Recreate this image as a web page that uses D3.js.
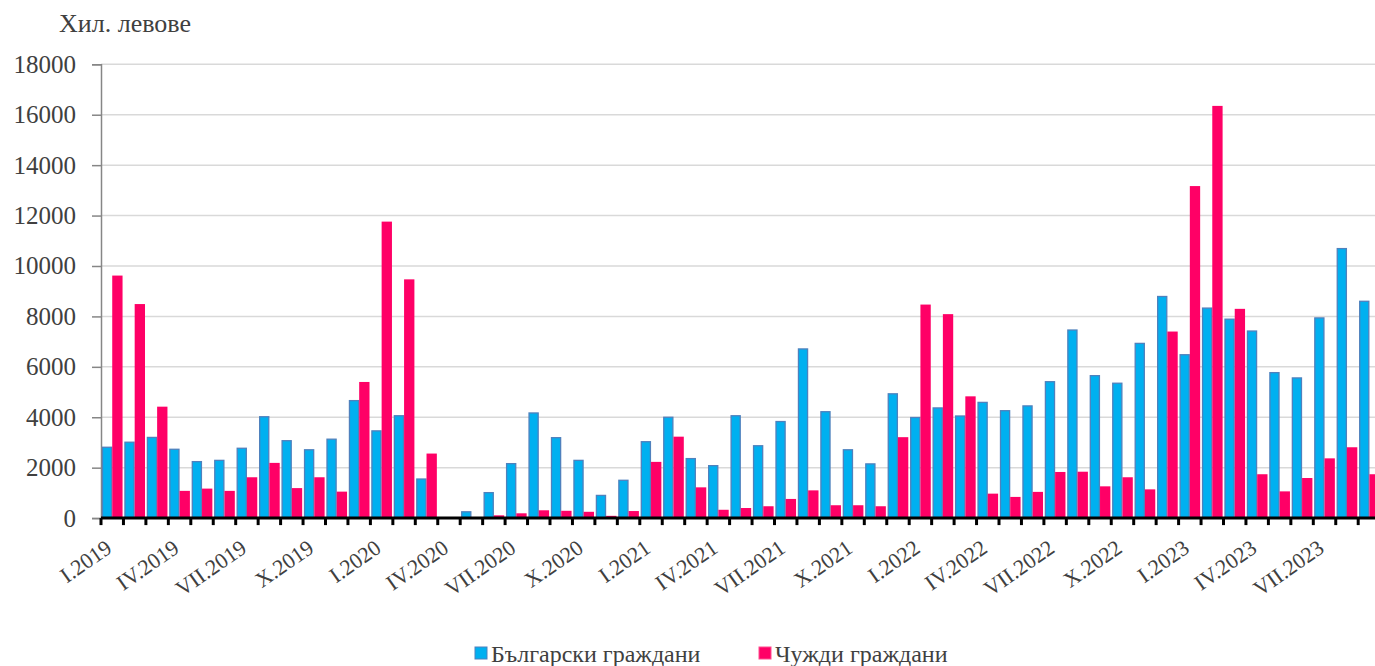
<!DOCTYPE html>
<html><head><meta charset="utf-8">
<script src="https://cdn.jsdelivr.net/npm/d3@7"></script>
<style>
html,body{margin:0;padding:0;background:#fff;}
svg{display:block;}
text{font-family:"Liberation Serif","Times New Roman",serif;fill:#404040;}
</style></head>
<body>
<svg id="chart" width="1375" height="666"></svg>
<script>
const years = ["2019","2020","2021","2022","2023"];
const romans = ["I","II","III","IV","V","VI","VII","VIII","IX","X","XI","XII"];
const months = [];
years.forEach(y => romans.forEach(r => months.push(r + "." + y)));
months.length = 57; // I.2019 .. IX.2023

const seriesNames = ["Български граждани", "Чужди граждани"];
const bulgarian = [
  2810, 3010, 3200, 2730, 2240, 2290, 2770, 4020, 3070, 2710, 3130, 4660,
  3460, 4060, 1550, 0, 250, 1010, 2160, 4170, 3190, 2290, 900, 1500,
  3030, 4000, 2360, 2080, 4060, 2870, 3830, 6710, 4220, 2710, 2150, 4930,
  3990, 4370, 4050, 4590, 4260, 4450, 5410, 7460, 5650, 5350, 6930, 8790,
  6480, 8330, 7890, 7420, 5770, 5560, 7940, 10690, 8600
];
const foreign = [
  9620, 8490, 4420, 1080, 1170, 1080, 1620, 2190, 1190, 1620, 1050, 5400,
  11760, 9470, 2560, 0, 0, 110, 190, 310, 290, 250, 90, 280,
  2230, 3230, 1220, 330, 400, 470, 760, 1100, 510, 510, 470, 3210,
  8470, 8090, 4830, 970, 840, 1040, 1830, 1840, 1260, 1620, 1140, 7400,
  13170, 16350, 8300, 1740, 1060, 1590, 2370, 2810, 1740
];
const yTicks = [0,2000,4000,6000,8000,10000,12000,14000,16000,18000];
const xLabelEvery = 3;
const colors = ["#00B0F0", "#FF0066"];
const strokes = ["#4F81BD", "#FF4D8D"];

const svg = d3.select("#chart");
const plotLeft = 101, plotTop = 64.3, plotBottom = 518.1;
const stepW = 22.45;
const plotRight = plotLeft + stepW * months.length;

const x = d3.scaleBand().domain(months).range([plotLeft, plotRight]).paddingInner(0.08).paddingOuter(0.04);
const xs = d3.scaleBand().domain([0,1]).range([0, x.bandwidth()]);
const y = d3.scaleLinear().domain([0, 18000]).range([plotBottom, plotTop]);

// gridlines
svg.append("g").selectAll("line").data(yTicks.filter(d => d > 0)).join("line")
  .attr("x1", plotLeft).attr("x2", 1375)
  .attr("y1", d => y(d)).attr("y2", d => y(d))
  .attr("stroke", "#D9D9D9").attr("stroke-width", 1.5);

// y axis
const yAxis = svg.append("g").attr("transform", `translate(${plotLeft},0)`)
  .call(d3.axisLeft(y).tickValues(yTicks).tickSize(9).tickPadding(16).tickFormat(d3.format("d")));
yAxis.select(".domain").attr("stroke", "#868686").attr("stroke-width", 1.5);
yAxis.selectAll(".tick line").attr("stroke", "#868686").attr("stroke-width", 1.5);
yAxis.selectAll(".tick text").attr("font-size", 25).attr("font-family", "Liberation Serif").attr("fill", "#404040");

// bars
const data = months.map((m, i) => ({m, v: [bulgarian[i], foreign[i]]}));
const groups = svg.append("g").selectAll("g").data(data).join("g")
  .attr("transform", d => `translate(${x(d.m)},0)`);
groups.selectAll("rect").data(d => d.v.map((v, k) => ({v, k})).filter(e => e.v > 0)).join("rect")
  .attr("x", d => xs(d.k) + (d.k === 0 ? 0.6 : 0))
  .attr("width", d => xs.bandwidth() - (d.k === 0 ? 1.2 : 0))
  .attr("y", d => y(d.v))
  .attr("height", d => y(0) - y(d.v))
  .attr("fill", d => colors[d.k])
  .attr("stroke", d => d.k === 0 ? strokes[0] : "none")
  .attr("stroke-width", 1.3);

// x axis
const boundaries = months.map(m => x(m) + x.bandwidth()/2 - x.step()/2);
boundaries.push(plotRight);
svg.append("line").attr("x1", plotLeft).attr("x2", 1375).attr("y1", plotBottom).attr("y2", plotBottom)
  .attr("stroke", "#000").attr("stroke-width", 3);
svg.append("g").selectAll("line").data(boundaries).join("line")
  .attr("x1", d => d).attr("x2", d => d).attr("y1", plotBottom).attr("y2", plotBottom + 7)
  .attr("stroke", "#000").attr("stroke-width", 3);

// x labels
svg.append("g").selectAll("text").data(months.filter((m, i) => i % xLabelEvery === 0)).join("text")
  .attr("transform", d => `translate(${x(d) + x.bandwidth()/2 + 1},${plotBottom + 33}) rotate(-35)`)
  .attr("text-anchor", "end")
  .attr("font-size", 22)
  .text(d => d);

// title
svg.append("text").attr("x", 59).attr("y", 32).attr("font-size", 26).text("Хил. левове");

// legend
const legend = svg.append("g");
const legX = [475, 759];
seriesNames.forEach((n, k) => {
  legend.append("rect").attr("x", legX[k]).attr("y", 647).attr("width", 12).attr("height", 12)
    .attr("fill", colors[k]).attr("stroke", k === 0 ? strokes[0] : "#FF4D8D").attr("stroke-width", 1);
  legend.append("text").attr("x", legX[k] + 16).attr("y", 662).attr("font-size", 24).text(n);
});
</script>
</body></html>
